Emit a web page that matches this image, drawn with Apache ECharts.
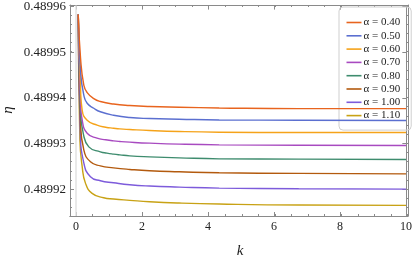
<!DOCTYPE html>
<html><head><meta charset="utf-8">
<script src="https://cdn.jsdelivr.net/npm/echarts@6/dist/echarts.min.js"></script>
<style>html,body{margin:0;padding:0;background:#fff}#c{width:415px;height:257px}</style>
</head><body><div id="c"></div>
<script>
const alphaLabels = ['α = 0.40','α = 0.50','α = 0.60','α = 0.70','α = 0.80','α = 0.90','α = 1.00','α = 1.10'];
const colors = ['#E8641E','#5B6FD0','#F5A31A','#A84AC0','#3E8C6E','#B35A0E','#7D5BDB','#C8A215'];
const xTickLabels = [0,2,4,6,8,10];
const xMinorTicks = [0,0.5,1,1.5,2,2.5,3,3.5,4,4.5,5,5.5,6,6.5,7,7.5,8,8.5,9,9.5,10];
const yTickLabels = [0.48992,0.48993,0.48994,0.48995,0.48996];
const yMinorTicks = [0.489916,0.489918,0.48992,0.489922,0.489924,0.489926,0.489928,0.48993,0.489932,0.489934,0.489936,0.489938,0.48994,0.489942,0.489944,0.489946,0.489948,0.48995,0.489952,0.489954,0.489956,0.489958,0.48996];

const eta040 = [[0.07,0.48995825],[0.14,0.48994865],[0.24,0.48994275],[0.34,0.48994116],[0.54,0.48993985],[0.74,0.48993921],[1.14,0.48993865],[1.63,0.48993832],[2.23,0.4899381],[3.13,0.48993795],[4.34,0.4899378],[6.75,0.48993766],[10,0.48993766]];
const eta050 = [[0.07,0.48995825],[0.14,0.48994559],[0.24,0.48994057],[0.34,0.48993882],[0.54,0.48993773],[0.74,0.48993696],[1.14,0.4899362],[1.63,0.4899357],[2.23,0.48993548],[3.13,0.48993533],[4.34,0.48993517],[6.75,0.48993511],[10,0.48993504]];
const eta060 = [[0.07,0.48995825],[0.14,0.4899421],[0.19,0.48993729],[0.34,0.48993511],[0.64,0.48993402],[0.9,0.48993358],[1.14,0.48993336],[1.33,0.48993321],[1.63,0.48993308],[2.23,0.48993286],[3.13,0.48993264],[4.34,0.48993249],[6.75,0.48993242],[10,0.48993242]];
const eta070 = [[0.07,0.48995825],[0.135,0.48993948],[0.19,0.48993511],[0.34,0.48993227],[0.64,0.48993118],[0.9,0.48993083],[1.14,0.48993059],[1.33,0.48993046],[1.63,0.48993031],[2.23,0.48993009],[3.13,0.48992987],[4.34,0.48992972],[6.75,0.48992965],[10,0.48992959]];
const eta080 = [[0.07,0.48995825],[0.135,0.48993729],[0.22,0.48993227],[0.39,0.48992928],[0.74,0.48992819],[0.94,0.4899279],[1.14,0.48992769],[1.33,0.48992753],[1.63,0.48992731],[2.23,0.4899271],[3.13,0.48992688],[4.34,0.48992666],[6.75,0.48992659],[10,0.48992653]];
const eta090 = [[0.07,0.48995825],[0.135,0.48993511],[0.24,0.48992856],[0.44,0.489926],[0.74,0.48992513],[1.14,0.48992469],[1.63,0.48992434],[2.23,0.48992404],[3.13,0.48992382],[4.34,0.4899236],[6.75,0.48992347],[10,0.48992338]];
const eta100 = [[0.07,0.48995825],[0.13,0.48993293],[0.24,0.48992572],[0.44,0.48992273],[0.74,0.48992186],[1.14,0.48992142],[1.63,0.48992098],[2.23,0.4899207],[3.13,0.48992048],[4.34,0.48992026],[6.75,0.48992011],[10,0.48992004]];
const eta110 = [[0.07,0.48995825],[0.12,0.48993074],[0.19,0.48992491],[0.29,0.48992129],[0.49,0.4899191],[0.84,0.48991814],[1.14,0.48991786],[1.63,0.48991758],[2.23,0.48991727],[3.13,0.48991699],[4.34,0.48991677],[6.75,0.48991655],[10,0.48991648]];
const allSeries = [eta040,eta050,eta060,eta070,eta080,eta090,eta100,eta110];

const xMin = -0.18, xMax = 10.01, yMin = 0.48991415, yMax = 0.4899602;
const font = 'Liberation Serif';
const frame = '#8a8a8a';

function xAx(grid, pos, ticks, len, labels) {
  return {type:'value', gridIndex:grid, position:pos, min:xMin, max:xMax,
    axisLine:{show:true, onZero:false, lineStyle:{color:frame, width:1}},
    axisTick:{show:true, inside:true, length:len, customValues:ticks, lineStyle:{color:frame}},
    axisLabel:{show:labels, customValues:xTickLabels, fontFamily:font, fontSize:12, color:'#222', margin:5},
    splitLine:{show:false}};
}
function yAx(grid, pos, ticks, len, labels) {
  return {type:'value', gridIndex:grid, position:pos, min:yMin, max:yMax,
    axisLine:{show:true, onZero:false, lineStyle:{color:frame, width:1}},
    axisTick:{show:true, inside:true, length:len, customValues:ticks, lineStyle:{color:frame}},
    axisLabel:{show:labels, customValues:yTickLabels, formatter:v=>v.toFixed(5), fontFamily:font, fontSize:13, color:'#222', margin:4},
    splitLine:{show:false}};
}

const series = allSeries.map((d,i)=>({
  type:'line', name:alphaLabels[i], data:d, xAxisIndex:0, yAxisIndex:0,
  showSymbol:false, smooth:0.5, clip:true,
  lineStyle:{color:colors[i], width:1.4}, itemStyle:{color:colors[i]},
  z: 10 - i,
  markLine: i===0 ? {silent:true, symbol:'none', label:{show:false},
    lineStyle:{color:'#e2e2e2', width:1.5, type:'solid'}, data:[{xAxis:0}]} : undefined
}));

const chart = echarts.init(document.getElementById('c'), null, {renderer:'canvas'});
chart.setOption({
  animation:false,
  grid:[{left:70, right:7, top:5, bottom:41}, {left:70, right:7, top:5, bottom:41}],
  xAxis:[xAx(0,'bottom',xTickLabels,4,true), xAx(0,'top',xTickLabels,4,false),
         xAx(1,'bottom',xMinorTicks,2,false), xAx(1,'top',xMinorTicks,2,false)],
  yAxis:[yAx(0,'left',yTickLabels,4,true), yAx(0,'right',yTickLabels,4,false),
         yAx(1,'left',yMinorTicks,2,false), yAx(1,'right',yMinorTicks,2,false)],
  legend:{orient:'vertical', left:339, top:7, width:71,
    padding:[10,11,9,7.5], itemGap:2.3, itemWidth:15, itemHeight:1.6, icon:'rect',
    backgroundColor:'rgba(255,255,255,0)', borderColor:'#cfcfcf', borderWidth:1, borderRadius:4,
    textStyle:{fontFamily:font, fontSize:11, color:'#222', lineHeight:11, padding:[0,0,0,-3]},
    data:alphaLabels},
  graphic:[
    {type:'text', x:8, y:110, rotation:Math.PI/2, style:{text:'η', font:'italic 15px "Liberation Serif"', fill:'#222', align:'center', verticalAlign:'middle'}},
    {type:'text', x:240, y:251, style:{text:'k', font:'italic 15px "Liberation Serif"', fill:'#222', align:'center', verticalAlign:'middle'}}
  ],
  series:series
});
</script></body></html>
